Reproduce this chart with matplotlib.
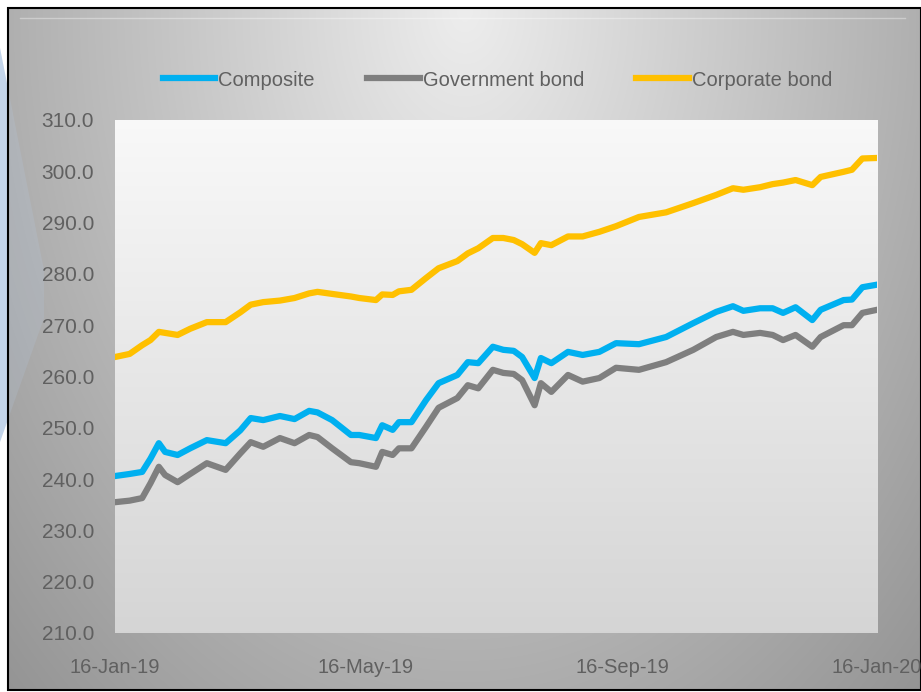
import numpy as np
import pandas as pd
import matplotlib
matplotlib.use("Agg")
import matplotlib.pyplot as plt
import matplotlib.dates as mdates
from matplotlib.patches import Rectangle, Polygon

dates = ["2019-01-16", "2019-01-23", "2019-01-29", "2019-02-02", "2019-02-06", "2019-02-09",
         "2019-02-15", "2019-02-21", "2019-03-01", "2019-03-10", "2019-03-17", "2019-03-22",
         "2019-03-28", "2019-04-05", "2019-04-12", "2019-04-19", "2019-04-23", "2019-04-30",
         "2019-05-09", "2019-05-13", "2019-05-21", "2019-05-24", "2019-05-29", "2019-06-01",
         "2019-06-07", "2019-06-14", "2019-06-20", "2019-06-29", "2019-07-04", "2019-07-09",
         "2019-07-16", "2019-07-21", "2019-07-26", "2019-07-30", "2019-08-05", "2019-08-08",
         "2019-08-13", "2019-08-21", "2019-08-28", "2019-09-05", "2019-09-13", "2019-09-24",
         "2019-10-07", "2019-10-20", "2019-10-31", "2019-11-08", "2019-11-13", "2019-11-21",
         "2019-11-27", "2019-12-02", "2019-12-08", "2019-12-16", "2019-12-20", "2019-12-31",
         "2020-01-04", "2020-01-09", "2020-01-16"]

composite = [240.6, 241.0, 241.4, 244.0, 247.0, 245.3, 244.7, 246.0, 247.6, 247.0, 249.5, 251.9,
             251.5, 252.3, 251.7, 253.3, 253.0, 251.5, 248.6, 248.6, 248.0, 250.5, 249.6, 251.1,
             251.1, 255.4, 258.7, 260.3, 262.8, 262.6, 265.8, 265.2, 265.0, 263.8, 259.7, 263.6,
             262.6, 264.8, 264.2, 264.8, 266.5, 266.3, 267.7, 270.4, 272.6, 273.7, 272.8, 273.3,
             273.3, 272.4, 273.5, 271.0, 273.0, 274.9, 275.0, 277.4, 277.9]

government = [235.5, 235.8, 236.3, 239.2, 242.4, 240.8, 239.4, 241.0, 243.1, 241.8, 245.0, 247.2,
              246.3, 248.0, 247.0, 248.6, 248.2, 246.0, 243.3, 243.1, 242.4, 245.3, 244.7, 246.0,
              246.0, 250.2, 253.9, 255.8, 258.3, 257.7, 261.3, 260.7, 260.5, 259.3, 254.4, 258.7,
              257.0, 260.3, 259.0, 259.7, 261.7, 261.3, 262.8, 265.2, 267.7, 268.7, 268.1, 268.5,
              268.1, 267.1, 268.1, 265.8, 267.7, 270.0, 270.0, 272.4, 273.0]

corporate = [263.8, 264.4, 266.1, 267.1, 268.7, 268.5, 268.1, 269.3, 270.6, 270.6, 272.5, 274.0,
             274.5, 274.8, 275.3, 276.2, 276.5, 276.1, 275.6, 275.3, 274.9, 276.0, 275.9, 276.6,
             276.9, 279.2, 281.1, 282.5, 284.0, 285.0, 287.0, 287.0, 286.6, 285.8, 284.1, 286.0,
             285.6, 287.3, 287.3, 288.2, 289.3, 291.1, 292.0, 293.8, 295.4, 296.7, 296.4, 296.9,
             297.5, 297.8, 298.3, 297.3, 298.9, 299.9, 300.3, 302.5, 302.6]

series_names = ["Composite", "Government bond", "Corporate bond"]
series_colors = ["#00B0F0", "#7F7F7F", "#FFC000"]
tick_dates = ["2019-01-16", "2019-05-16", "2019-09-16", "2020-01-16"]
y_ticks = list(range(210, 311, 10))

plt.rcParams["font.family"] = ["Liberation Sans", "DejaVu Sans"]
TXT = "#606060"

W, H = 921, 692
fig = plt.figure(figsize=(W / 100, H / 100), dpi=100)
fig.patch.set_facecolor("white")

bg = fig.add_axes([0, 0, 1, 1])
bg.axis("off")

chev = [(0, 48), (44, 270), (44, 318), (0, 442)]
bg.add_patch(Polygon(chev, closed=True, facecolor="#c6d6ea", edgecolor="none", zorder=0))

bx0, by0, bx1, by1 = 8, 8, 921, 690
nx, ny = 300, 230
xs = np.linspace(0, 1, nx)
ys = np.linspace(0, 1, ny)
X, Y = np.meshgrid(xs, ys)
Rr = np.sqrt(((X - 0.5) / 0.62) ** 2 + ((Y - 0.0) / 1.2) ** 2)
V = 0.93 - 0.30 * np.clip(Rr, 0, 1.3)
img = np.dstack([V, V, V])
bg.imshow(img, extent=(bx0, bx1, by1, by0), aspect="auto", zorder=1, interpolation="bilinear")
bg.add_patch(Polygon(chev, closed=True, facecolor="#b8cde8", edgecolor="none", alpha=0.18, zorder=2))
bg.add_patch(Rectangle((bx0, by0), bx1 - bx0, by1 - by0, fill=False, edgecolor="black", lw=1.5, zorder=3))
bg.plot([20, 905], [18, 18], color="white", lw=1, alpha=0.35, zorder=2)
bg.set_xlim(0, W)
bg.set_ylim(H, 0)

L, R_, T, B = 115, 877, 120, 633
ax = fig.add_axes([L / W, 1 - B / H, (R_ - L) / W, (B - T) / H])
ax.set_zorder(5)
grad = np.linspace(0.975, 0.835, 256).reshape(-1, 1)
ax.imshow(np.dstack([grad, grad, grad]), extent=(0, 1, 0, 1), transform=ax.transAxes,
          aspect="auto", zorder=0)

d = pd.to_datetime(dates)
for vals, name, col in zip([composite, government, corporate], series_names, series_colors):
    ax.plot(d, vals, color=col, lw=4.5, label=name, solid_joinstyle="round", zorder=3)

ax.set_xlim(pd.Timestamp("2019-01-16"), pd.Timestamp("2020-01-16"))
ax.set_ylim(210, 310)
ax.set_yticks(y_ticks)
ax.set_yticklabels([f"{v:.1f}" for v in y_ticks])
ax.set_xticks(pd.to_datetime(tick_dates))
ax.xaxis.set_major_formatter(mdates.DateFormatter("%-d-%b-%y"))
for s in ax.spines.values():
    s.set_visible(False)
ax.tick_params(axis="y", length=0, labelsize=15, labelcolor=TXT, pad=15)
ax.tick_params(axis="x", length=0, labelsize=14.5, labelcolor=TXT, pad=18)

leg = ax.legend(loc="center left", bbox_to_anchor=(163 / W, 1 - 80 / H),
                bbox_transform=fig.transFigure, ncol=3, frameon=False, fontsize=14.5,
                handlelength=2.6, handletextpad=0.15, columnspacing=2.6, labelcolor=TXT,
                borderaxespad=0, borderpad=0)
for t in leg.get_lines():
    t.set_linewidth(4.5)

fig.savefig("out.png", dpi=100, facecolor="white")
